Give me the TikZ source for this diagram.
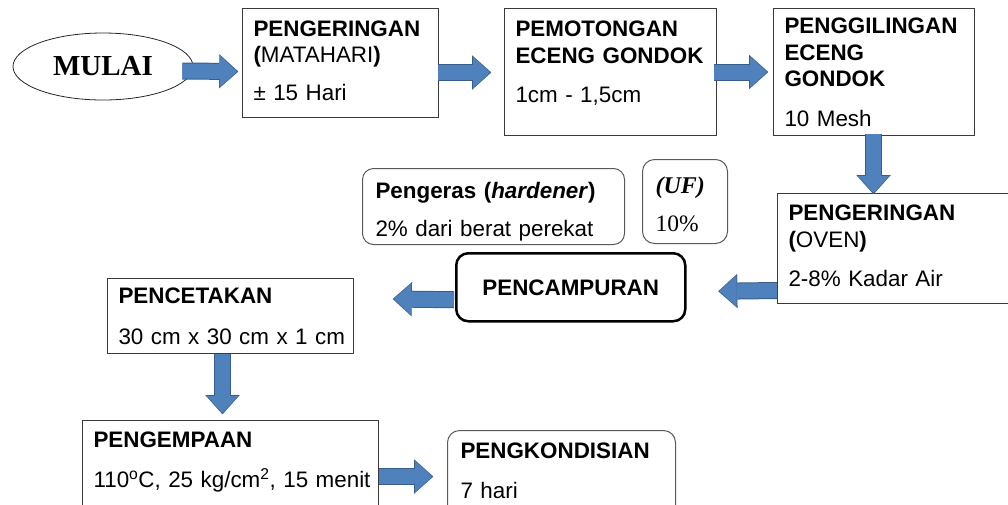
\documentclass[tikz,border=0pt]{standalone}
\usepackage{fontspec}
\setmainfont{Liberation Sans}
\newfontfamily\huruftimes{Liberation Serif}
\usetikzlibrary{arrows.meta,shapes.geometric}

\definecolor{panahisi}{HTML}{4F81BD}
\definecolor{panahtepi}{HTML}{385D8A}
\definecolor{garis}{HTML}{3A3A3A}
\newcommand{\isi}{\fontsize{22.4}{26.5}\selectfont}

\begin{document}
\begin{tikzpicture}[
  x=1pt, y=-1pt,
  kotak/.style={draw=garis, line width=1pt, anchor=north west, align=left,
    inner xsep=11pt, inner ysep=0pt, font=\isi},
  bulat/.style={kotak, draw=black!65, rounded corners=11pt, inner xsep=13pt},
  blok/.style={draw=panahisi, line width=15pt,
    -{Triangle[width=31pt,length=17pt,line width=0.01pt]},
    preaction={draw=panahtepi, line width=17pt, shorten >=-1.2pt,
      -{Triangle[width=34pt,length=19pt,line width=0.01pt]}}}
]
  \useasboundingbox (0,0) rectangle (1008,504);
  \clip (0,0) rectangle (1008,504);

  % Row 1: start and first three steps
  \node[draw=black!85, line width=0.8pt, ellipse, minimum width=180pt,
        minimum height=67pt, font=\huruftimes\bfseries\fontsize{29}{31}\selectfont]
        (mulai) at (103,66.5) {MULAI};
  \node[kotak, text width=174pt, text height=27.5pt, text depth=81.5pt]
        (kering1) at (242,8)
        {\textbf{PENGERINGAN}\\\textbf{(}MATAHARI\textbf{)}\\[11pt]± 15 Hari};
  \node[kotak, text width=190pt, text height=28pt, text depth=99pt]
        (potong) at (504,8)
        {\textbf{PEMOTONGAN}\\\textbf{ECENG GONDOK}\\[13pt]1cm - 1,5cm};
  \node[kotak, text width=179pt, text height=25pt, text depth=102pt]
        (giling) at (773,8)
        {\textbf{PENGGILINGAN}\\\textbf{ECENG}\\\textbf{GONDOK}\\[13pt]10 Mesh};

  % Row 2: drying, additives, mixing
  \node[kotak, text width=221pt, text height=27pt, text depth=83pt]
        (oven) at (777,193)
        {\textbf{PENGERINGAN}\\\textbf{(}OVEN\textbf{)}\\[13pt]2-8\% Kadar Air};
  \node[bulat, text width=236pt, text height=30pt, text depth=46pt]
        (pengeras) at (362,168)
        {\textbf{Pengeras (\textit{hardener})}\\[11.5pt]2\% dari berat perekat};
  \node[bulat, rounded corners=12pt, text width=59pt, text height=34pt, text depth=50pt,
        font=\huruftimes\fontsize{23.5}{26}\selectfont]
        (uf) at (642,159) {\textbf{\textit{\fontsize{24}{26}\selectfont(UF)}}\\[12pt]10\%};
  \node[kotak, draw=black, line width=2.5pt, rounded corners=12pt, align=center,
        text width=207pt, text height=42pt, text depth=26pt]
        (campur) at (455,252) {\textbf{PENCAMPURAN}};

  % Row 3: pressing and conditioning
  \node[kotak, text width=224pt, text height=25pt, text depth=50pt]
        (cetak) at (107,278)
        {\textbf{PENCETAKAN}\\[14.5pt]\mbox{30 cm x 30 cm x 1 cm}};
  \node[kotak, text width=274pt, text height=27pt, text depth=73pt]
        (kempa) at (82,420)
        {\textbf{PENGEMPAAN}\\[13.5pt]\mbox{110\textsuperscript{o}C, 25 kg/cm\textsuperscript{2}, 15 menit}};
  \node[bulat, rounded corners=12pt, text width=202pt, text height=28pt, text depth=62pt]
        (kondisi) at (447,430)
        {\textbf{PENGKONDISIAN}\\[13.5pt]7 hari};

  % block arrows
  \draw[blok] ([shift={(-11,4.5)}]mulai.east) -- ([shift={(-5,8.5)}]kering1.west);
  \draw[blok] ([shift={(-1,9.5)}]kering1.east) -- ([shift={(-14,0.5)}]potong.west);
  \draw[blok] ([shift={(-3,0)}]potong.east) -- ([shift={(-6,0)}]giling.west);
  \draw[blok] ([shift={(-0.5,-2)}]giling.south) -- ([shift={(-25.5,0)}]oven.north);
  \draw[blok] ([shift={(0,42)}]oven.west) -- ([shift={(33,4)}]campur.east);
  \draw[blok] ([shift={(-1,12.5)}]campur.west) -- ([shift={(40,-17)}]cetak.east);
  \draw[blok] ([shift={(-8,0)}]cetak.south) -- ([shift={(-8,-7)}]kempa.north);
  \draw[blok] ([shift={(0,6)}]kempa.east) -- ([shift={(-15,1)}]kondisi.west);
\end{tikzpicture}
\end{document}
